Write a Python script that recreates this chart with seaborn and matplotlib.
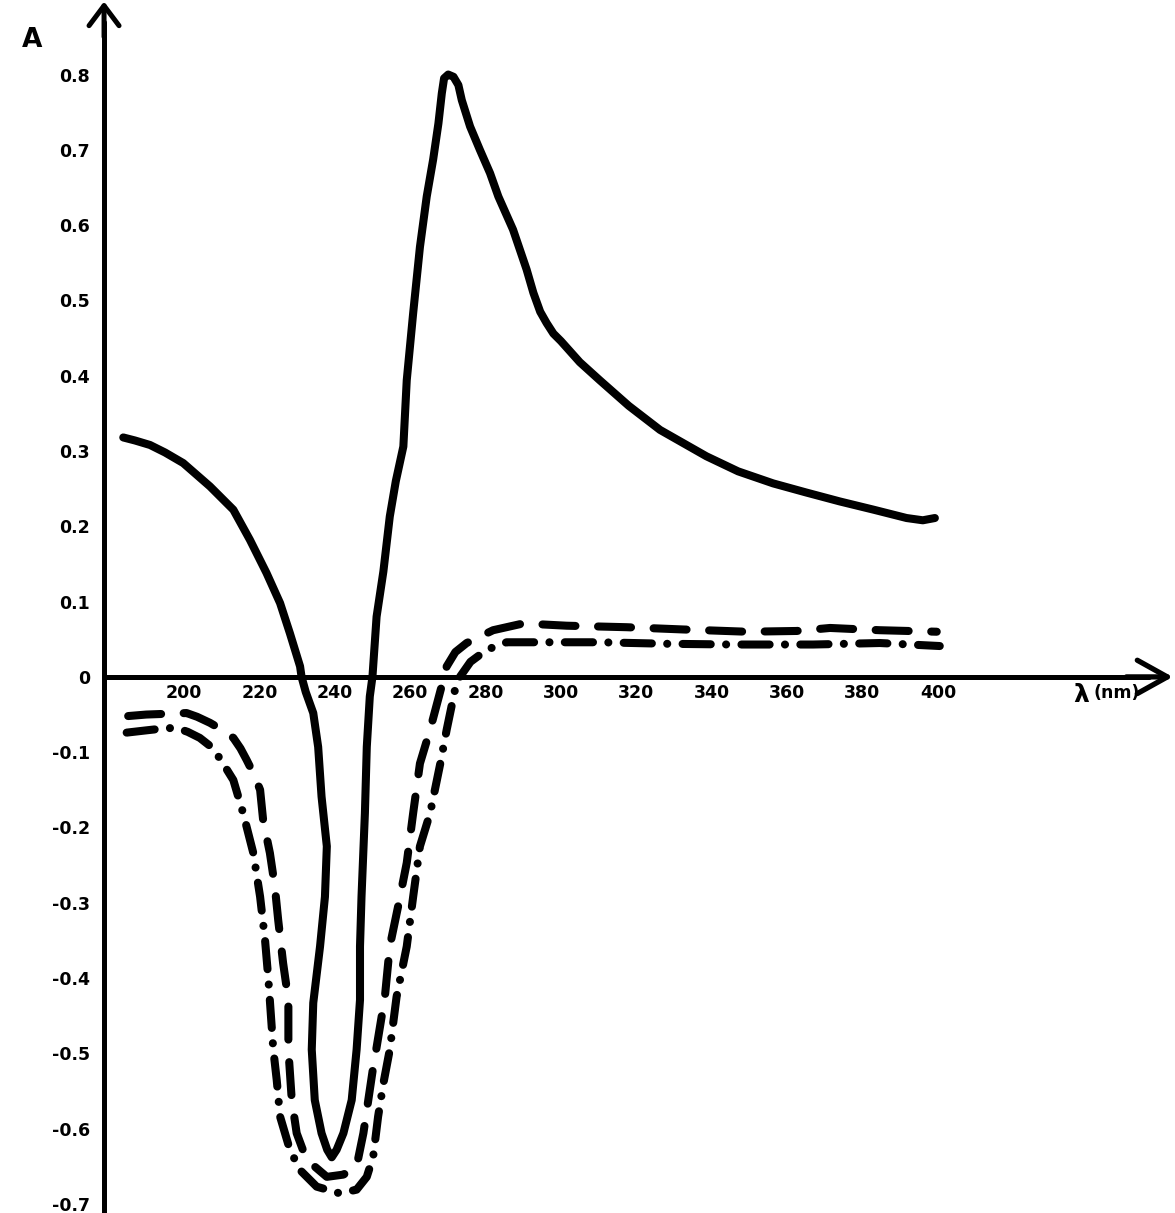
import matplotlib
matplotlib.use("Agg")
import matplotlib.pyplot as plt
import pandas as pd
import seaborn as sns

# Wavelength (nm) / absorbance traces, listed in drawing order
solid_wl = [183.9, 187.0, 191.0, 195.0, 199.8, 206.9, 213.1, 217.5, 221.9, 225.5,
            228.1, 230.8, 231.2, 232.3, 234.3, 235.6, 236.5, 237.9, 237.4, 236.1,
            234.3, 233.9, 234.7, 236.5, 238.0, 239.2, 240.5, 242.3, 244.5, 245.8,
            246.7, 246.7, 247.1, 248.0, 248.5, 249.3, 250.0, 251.1, 252.9, 254.6,
            256.2, 258.2, 259.1, 260.8, 262.6, 264.4, 266.1, 267.5, 268.4, 269.0,
            270.1, 271.5, 272.8, 273.7, 275.9, 278.5, 281.2, 283.4, 287.3, 290.9,
            292.7, 294.5, 296.2, 298.0, 300.0, 305.0, 310.3, 318.0, 326.3, 338.6,
            347.0, 356.3, 365.0, 374.0, 383.0, 391.7, 396.0, 399.2]
solid_a = [0.318, 0.314, 0.308, 0.298, 0.284, 0.253, 0.222, 0.182, 0.138, 0.098,
           0.058, 0.014, 0.0, -0.020, -0.048, -0.093, -0.159, -0.225, -0.292, -0.358,
           -0.433, -0.495, -0.562, -0.606, -0.628, -0.638, -0.628, -0.606, -0.562, -0.495,
           -0.429, -0.358, -0.292, -0.181, -0.093, -0.026, 0.0, 0.080, 0.140, 0.213,
           0.260, 0.306, 0.394, 0.483, 0.571, 0.638, 0.687, 0.735, 0.775, 0.795,
           0.800, 0.797, 0.786, 0.766, 0.731, 0.700, 0.669, 0.638, 0.594, 0.541,
           0.510, 0.485, 0.470, 0.456, 0.446, 0.418, 0.394, 0.360, 0.328, 0.293,
           0.273, 0.257, 0.245, 0.233, 0.222, 0.211, 0.208, 0.211]

dashed_wl = [185.2, 190.0, 195.4, 200.7, 203.5, 206.9, 210.0, 213.1, 215.0, 216.6,
             218.6, 220.2, 221.0, 222.8, 224.1, 225.0, 226.3, 227.7, 227.7, 228.6,
             229.9, 232.5, 237.9, 242.3, 245.8, 247.6, 248.9, 250.2, 251.0, 253.3,
             254.6, 256.8, 259.1, 260.8, 262.6, 265.3, 268.8, 269.7, 272.0, 275.0,
             282.0, 290.0, 301.5, 317.4, 332.4, 349.3, 362.5, 371.4, 384.6, 399.7]
dashed_a = [-0.052, -0.050, -0.049, -0.048, -0.053, -0.061, -0.070, -0.081, -0.095, -0.110,
            -0.130, -0.150, -0.190, -0.234, -0.278, -0.323, -0.380, -0.429, -0.495, -0.562,
            -0.606, -0.641, -0.664, -0.661, -0.650, -0.606, -0.562, -0.518, -0.495, -0.425,
            -0.358, -0.305, -0.247, -0.181, -0.115, -0.070, -0.004, 0.014, 0.033, 0.045,
            0.062, 0.071, 0.068, 0.066, 0.063, 0.060, 0.061, 0.065, 0.062, 0.060]

dashdot_wl = [184.8, 190.0, 195.4, 198.1, 201.0, 204.2, 207.0, 209.5, 213.1, 215.7,
              218.4, 220.2, 221.5, 222.4, 223.7, 224.6, 225.5, 228.1, 230.8, 235.2,
              241.4, 245.8, 248.5, 250.2, 251.5, 252.9, 254.6, 256.4, 259.1, 260.8,
              262.6, 265.3, 268.0, 269.7, 271.9, 273.2, 276.0, 280.3, 285.6, 297.1,
              310.3, 328.0, 345.7, 362.5, 366.9, 384.6, 400.5]
dashdot_a = [-0.074, -0.071, -0.068, -0.068, -0.073, -0.081, -0.092, -0.108, -0.137, -0.181,
             -0.234, -0.292, -0.349, -0.402, -0.495, -0.535, -0.584, -0.628, -0.655, -0.677,
             -0.686, -0.681, -0.664, -0.637, -0.584, -0.540, -0.495, -0.425, -0.358, -0.292,
             -0.225, -0.181, -0.115, -0.070, -0.017, 0.0, 0.020, 0.036, 0.046, 0.046,
             0.046, 0.044, 0.043, 0.043, 0.043, 0.045, 0.041]

x_ticks = [200, 220, 240, 260, 280, 300, 320, 340, 360, 380, 400]
y_ticks = [0.8, 0.7, 0.6, 0.5, 0.4, 0.3, 0.2, 0.1, 0.0, -0.1, -0.2, -0.3, -0.4, -0.5, -0.6, -0.7]
y_tick_labels = ["0.8", "0.7", "0.6", "0.5", "0.4", "0.3", "0.2", "0.1", "0",
                 "-0.1", "-0.2", "-0.3", "-0.4", "-0.5", "-0.6", "-0.7"]

sns.set_theme(style="white")
plt.rcParams["font.family"] = ["DejaVu Sans"]
plt.rcParams["text.color"] = "black"
plt.rcParams["lines.solid_capstyle"] = "round"
plt.rcParams["lines.dash_capstyle"] = "round"
plt.rcParams["lines.solid_joinstyle"] = "round"
plt.rcParams["lines.dash_joinstyle"] = "round"

frames = []
for name, wl, a in [("solid", solid_wl, solid_a),
                    ("dashed", dashed_wl, dashed_a),
                    ("dashdot", dashdot_wl, dashdot_a)]:
    frames.append(pd.DataFrame({"wl": wl, "A": a, "curve": name}))
df = pd.concat(frames, ignore_index=True)

fig = plt.figure(figsize=(11.75, 12.13), dpi=100)
ax = fig.add_axes([0, 0, 1, 1])
ax.set_facecolor("white")

sns.lineplot(data=df, x="wl", y="A", style="curve", units="curve",
             dashes={"solid": "", "dashed": (4.1, 2.8), "dashdot": (3.5, 1.9, 0.01, 1.9)},
             sort=False, estimator=None, color="black", linewidth=5.8,
             legend=False, ax=ax)

ax.set_xlim(151.2, 462.9)
ax.set_ylim(-0.712, 0.899)
ax.set_xlabel("")
ax.set_ylabel("")

x_axis_pos = 178.8
for side in ["top", "right"]:
    ax.spines[side].set_visible(False)
ax.spines["left"].set_position(("data", x_axis_pos))
ax.spines["bottom"].set_position(("data", 0))
ax.spines["left"].set_bounds(-0.712, 0.87)
ax.spines["bottom"].set_bounds(x_axis_pos, 456)
for side in ["left", "bottom"]:
    ax.spines[side].set_linewidth(3.6)
    ax.spines[side].set_color("black")
    ax.spines[side].set_capstyle("round")

ax.set_xticks(x_ticks)
ax.set_xticklabels([str(v) for v in x_ticks])
ax.set_yticks(y_ticks)
ax.set_yticklabels(y_tick_labels)
ax.tick_params(axis="x", direction="in", length=6, width=2, pad=5,
               labelsize=12.5, colors="black")
ax.tick_params(axis="y", direction="out", length=5, width=2, pad=5,
               labelsize=12.5, colors="black")
for lab in ax.get_xticklabels() + ax.get_yticklabels():
    lab.set_fontweight("bold")

# arrow heads on both axes
ax.annotate("", xy=(x_axis_pos, 0.897), xytext=(x_axis_pos, 0.85),
            arrowprops=dict(arrowstyle="->,head_length=1.2,head_width=0.9",
                            lw=3.6, color="black", shrinkA=0, shrinkB=0))
ax.annotate("", xy=(462.3, 0.0), xytext=(450.0, 0.0),
            arrowprops=dict(arrowstyle="->,head_length=1.8,head_width=1.0",
                            lw=3.8, color="black", shrinkA=0, shrinkB=0))

# axis titles
ax.text(159.7, 0.846, "A", fontsize=19, fontweight="bold", color="black",
        ha="center", va="center")
ax.text(437.9, -0.0235, "λ", fontsize=18, fontweight="bold", color="black",
        ha="center", va="center")
ax.text(441.4, -0.021, "(nm)", fontsize=12.5, fontweight="bold", color="black",
        ha="left", va="center")

fig.savefig("out.png", dpi=100, facecolor="white")
